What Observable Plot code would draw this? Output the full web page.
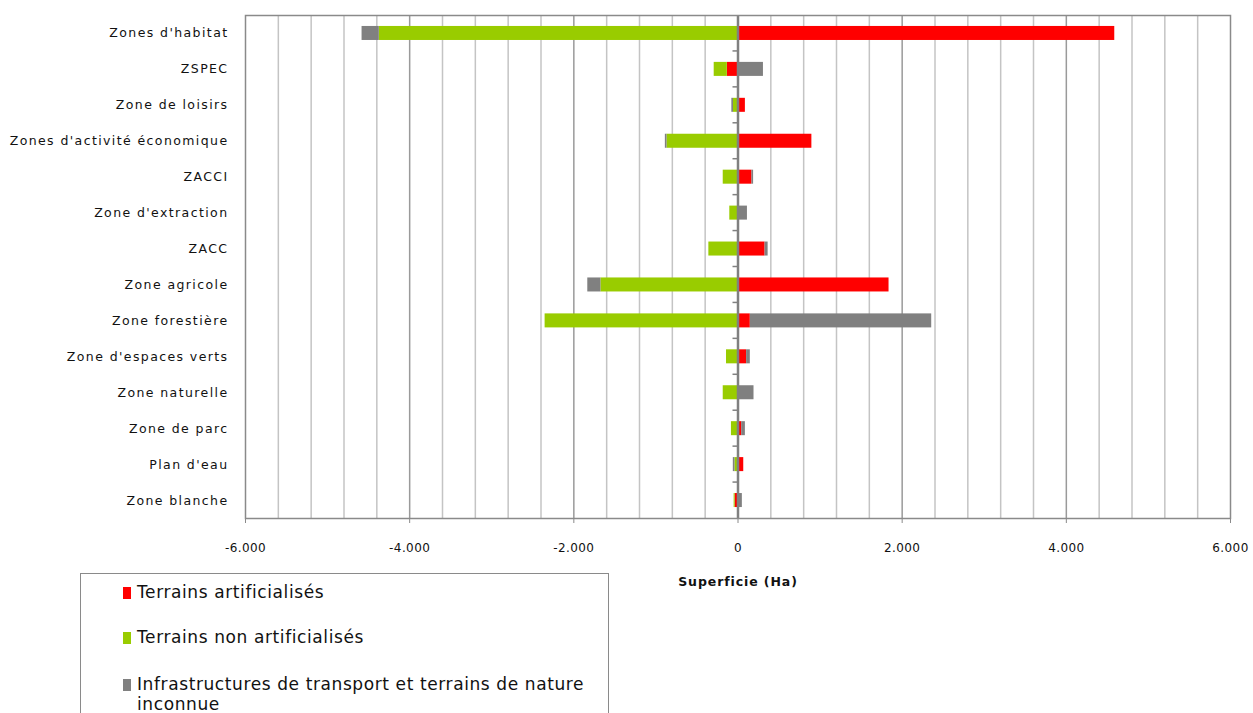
<!DOCTYPE html>
<html>
<head>
<meta charset="utf-8">
<script src="https://cdn.jsdelivr.net/npm/d3@7"></script>
<script src="https://cdn.jsdelivr.net/npm/@observablehq/plot@0.6"></script>
<style>
  html, body { margin: 0; padding: 0; background: #fff; overflow: hidden; }
  #wrap { position: relative; width: 1253px; height: 713px; font-family: "DejaVu Sans", Verdana, sans-serif; }
  #legend { position: absolute; left: 80px; top: 573px; width: 529px; height: 160px; border: 1.5px solid #8a8a8a; box-sizing: border-box; background: #fff; }
  .item { position: absolute; left: 42px; font-size: 17px; letter-spacing: 0.6px; color: #111; line-height: 20px; }
  .sw { position: absolute; left: 0; top: 5px; width: 8px; height: 12px; }
  .item span.t { display: block; margin-left: 14px; width: 450px; }
  #xtitle { position: absolute; left: 638px; width: 200px; top: 574px; text-align: center; font-weight: bold; font-size: 12.5px; letter-spacing: 0.9px; color: #111; }
  #chart g[aria-label="y-axis tick label"] text { letter-spacing: 1.4px; }
  #chart g[aria-label="x-axis tick label"] text { letter-spacing: 0.4px; }
</style>
</head>
<body>
<div id="wrap"><div id="chart"></div><div id="xtitle"></div><div id="legend"></div></div>
<script>
const categories = ["Zones d'habitat", "ZSPEC", "Zone de loisirs", "Zones d'activité économique", "ZACCI", "Zone d'extraction", "ZACC", "Zone agricole", "Zone forestière", "Zone d'espaces verts", "Zone naturelle", "Zone de parc", "Plan d'eau", "Zone blanche"];
const seriesNames = ["Terrains artificialisés", "Terrains non artificialisés", "Infrastructures de transport et terrains de nature inconnue"];
const seriesColors = ["#ff0000", "#99cc00", "#808080"];
const artificialises    = [4590, -130, 90, 900, 170, 0, 330, 1840, 150, 105, 0, 45, 70, -35];
const nonArtificialises = [-4370, -160, -55, -865, -180, -100, -355, -1670, -2350, -140, -180, -80, -37, -12];
const infrastructures   = [-210, 310, -20, -20, 20, 115, 37, -160, 2210, 45, 195, 45, -20, 53];
const xTicks = [-6000, -4000, -2000, 0, 2000, 4000, 6000];
const xTitle = "Superficie  (Ha)";

const seriesValues = [artificialises, nonArtificialises, infrastructures];
const data = [];
categories.forEach((c, i) => {
  seriesNames.forEach((s, j) => data.push({cat: c, series: s, value: seriesValues[j][i]}));
});

const fmt = d3.formatLocale({decimal: ",", thousands: ".", grouping: [3], currency: ["", ""], minus: "-"}).format(",");
const minorGrid = d3.range(-6000, 6001, 400).filter(v => v % 2000 !== 0);
const majorGrid = d3.range(-4000, 4001, 2000).filter(v => v !== 0);

function separators(index, scales, values, dims) {
  const y = scales.y;
  const x = scales.x;
  const starts = categories.map(c => y(c));
  const step = (starts[starts.length - 1] - starts[0]) / (starts.length - 1);
  const bw = step * (1 - 0.61);
  const g = d3.create("svg:g");
  for (let i = 0; i < starts.length - 1; i++) {
    const yy = starts[i] + bw + (step - bw) / 2;
    g.append("line").attr("x1", x(0) - 5).attr("x2", x(0)).attr("y1", yy).attr("y2", yy)
      .attr("stroke", "#808080").attr("stroke-width", 1.5);
  }
  return g.node();
}

const chart = Plot.plot({
  width: 1253,
  height: 713,
  marginLeft: 245,
  marginRight: 23,
  marginTop: 15,
  marginBottom: 195,
  style: {fontFamily: "DejaVu Sans, Verdana, sans-serif", fontSize: "12.5px", color: "#111", background: "#fff"},
  x: {domain: [-6000, 6000], label: null},
  y: {domain: categories, paddingInner: 0.61, paddingOuter: 0.305, round: false, label: null},
  color: {domain: seriesNames, range: seriesColors},
  marks: [
    Plot.ruleX(minorGrid, {stroke: "#c4c4c4", strokeWidth: 1.5}),
    Plot.ruleX(majorGrid, {stroke: "#9a9a9a", strokeWidth: 1.5}),
    Plot.barX(data, Plot.stackX({x: "value", y: "cat", fill: "series", order: seriesNames, inset: 0})),
    Plot.ruleX([0], {stroke: "#808080", strokeWidth: 2.5}),
    separators,
    Plot.frame({stroke: "#8a8a8a", strokeWidth: 1.5}),
    Plot.axisY({tickSize: 0, tickPadding: 17, fontSize: 12.5}),
    Plot.axisX({ticks: xTicks, tickFormat: fmt, tickSize: 5, tickPadding: 20, stroke: "#8a8a8a", fontSize: 12})
  ]
});
document.getElementById("chart").appendChild(chart);
document.getElementById("xtitle").textContent = xTitle;

const legend = document.getElementById("legend");
const tops = [8, 53, 100];
seriesNames.forEach((s, i) => {
  const it = document.createElement("div");
  it.className = "item";
  it.style.top = tops[i] + "px";
  it.innerHTML = `<div class="sw" style="background:${seriesColors[i]}"></div><span class="t">${s}</span>`;
  legend.appendChild(it);
});
</script>
</body>
</html>
